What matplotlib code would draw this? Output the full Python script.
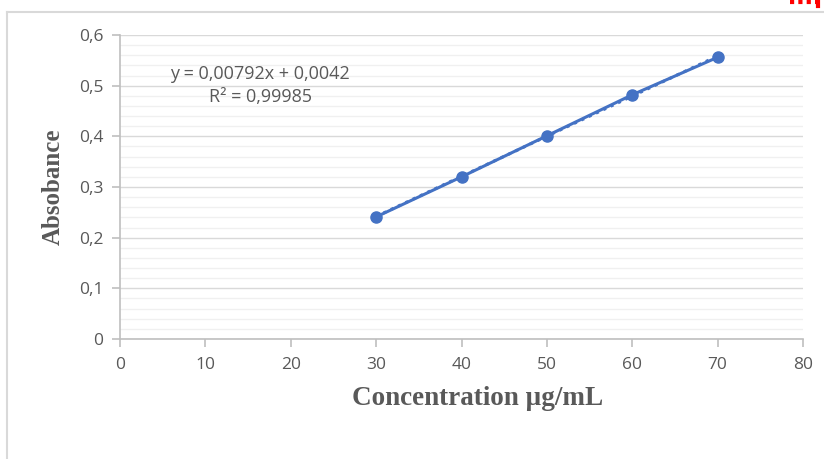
import matplotlib
matplotlib.use("Agg")
import numpy as np
from matplotlib import pyplot as plt
from matplotlib.ticker import FuncFormatter, MultipleLocator
from matplotlib.lines import Line2D

# calibration data
concentration = [30, 40, 50, 60, 70]
absorbance = [0.241, 0.320, 0.401, 0.482, 0.556]
slope, intercept = 0.00792, 0.0042
eq_text = "y = 0,00792x + 0,0042"
r2_text = "R² = 0,99985"

blue = "#4472c4"
axis_gray = "#bfbfbf"
text_gray = "#595959"

fig = plt.figure(figsize=(8.24, 4.59), dpi=100)
ax = fig.add_axes([120 / 824, 1 - 339 / 459, 683 / 824, 304 / 459])

ax.set_xlim(0, 80)
ax.set_ylim(0, 0.6)
ax.xaxis.set_major_locator(MultipleLocator(10))
ax.yaxis.set_major_locator(MultipleLocator(0.1))
ax.yaxis.set_minor_locator(MultipleLocator(0.02))

def comma(v, pos):
    s = f"{v:.1f}".rstrip("0").rstrip(".") if v else "0"
    return s.replace(".", ",")

ax.yaxis.set_major_formatter(FuncFormatter(comma))
ax.xaxis.set_major_formatter(FuncFormatter(lambda v, p: f"{v:.0f}"))

ax.grid(axis="y", which="major", color="#d9d9d9", lw=1.0, zorder=0)
ax.grid(axis="y", which="minor", color="#f0f0f0", lw=1.0, zorder=0)
ax.set_axisbelow(True)

for side in ("top", "right"):
    ax.spines[side].set_visible(False)
for side in ("left", "bottom"):
    ax.spines[side].set_color(axis_gray)
    ax.spines[side].set_linewidth(1.2)

ax.tick_params(axis="both", which="major", color=axis_gray, length=6, width=1.2,
               labelcolor=text_gray, labelsize=12.5)
ax.tick_params(axis="y", which="minor", length=0)
ax.tick_params(axis="x", pad=7)
ax.tick_params(axis="y", pad=6)
for lab in ax.get_xticklabels() + ax.get_yticklabels():
    lab.set_fontfamily("Open Sans")

# data line + linear trendline
ax.plot(concentration, absorbance, color=blue, lw=2.2, marker="o", ms=8, zorder=3,
        clip_on=False)
xt = np.array([concentration[0], concentration[-1]])
ax.plot(xt, slope * xt + intercept, color=blue, lw=2.2, ls=":", zorder=2)

ax.text(0.205, 0.872, eq_text, transform=ax.transAxes, ha="center", va="center",
        fontsize=13, color=text_gray, family="Open Sans")
ax.text(0.205, 0.796, r2_text, transform=ax.transAxes, ha="center", va="center",
        fontsize=13, color=text_gray, family="Open Sans")

ax.set_xlabel("Concentration µg/mL", fontsize=19.5, fontweight="bold",
              family="Liberation Serif", color=text_gray, labelpad=9)
ax.xaxis.label.set_x(0.524)
ax.set_ylabel("Absobance", fontsize=18, fontweight="bold",
              family="Liberation Serif", color=text_gray, labelpad=10)

# chart area border (partially visible, as in the screenshot)
fig.add_artist(Line2D([7 / 824, 7 / 824], [0, 1 - 12 / 459], color="#d9d9d9", lw=1.5))
fig.add_artist(Line2D([7 / 824, 1], [1 - 12 / 459, 1 - 12 / 459], color="#d9d9d9", lw=1.5))
fig.add_artist(Line2D([790 / 824, 818 / 824], [1 - 2 / 459, 1 - 2 / 459], color="red",
                      lw=3, ls=(0, (1, 1))))
fig.add_artist(Line2D([818 / 824, 818 / 824], [1 - 6 / 459, 1], color="red", lw=3))

fig.savefig("out.png", dpi=100)
